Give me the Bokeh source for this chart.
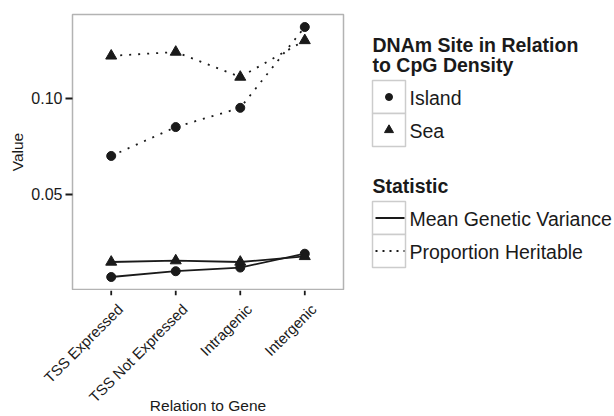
import math
from bokeh.plotting import figure
from bokeh.layouts import row, column
from bokeh.models import (FactorRange, Range1d, FixedTicker, PrintfTickFormatter,
                          LinearAxis)
from bokeh.core.properties import value
from bokeh.embed import file_html
from bokeh.resources import INLINE

# ---- data ----------------------------------------------------------------
relation = ["TSS Expressed", "TSS Not Expressed", "Intragenic", "Intergenic"]
island_prop_heritable = [0.070, 0.085, 0.095, 0.137]
sea_prop_heritable = [0.122, 0.124, 0.111, 0.130]
island_mean_gen_var = [0.0071, 0.0101, 0.0120, 0.0192]
sea_mean_gen_var = [0.0149, 0.0156, 0.0149, 0.0178]
y_ticks = [0.05, 0.10]

x_title = "Relation to Gene"
y_title = "Value"
shape_title = ["DNAm Site in Relation", "to CpG Density"]
shape_labels = ["Island", "Sea"]
stat_title = "Statistic"
stat_labels = ["Mean Genetic Variance", "Proportion Heritable"]

# ---- layout constants ----------------------------------------------------
W, H = 614, 416
MAIN_W = 350
LEFT, RIGHT, TOP, BOTTOM = 72, 343, 14, 289
MAIN_H = BOTTOM + 1             # one spare row so the panel border is whole
STRIP_H = H - MAIN_H            # strip holding x ticks, slanted labels, x title
TICK = 7
FONT = "Liberation Sans"
INK = "#1a1a1a"
DOTS = "2 7"
CAT_PAD = 0.1                   # padding (in category units) at each end
LABEL_SHIFT_PX = 9              # slanted labels hang to the right of the tick

all_vals = island_prop_heritable + sea_prop_heritable + island_mean_gen_var + sea_mean_gen_var
lo, hi = min(all_vals), max(all_vals)
pad = (hi - lo) * 0.05
n_cat = len(relation)

p = figure(width=MAIN_W, height=MAIN_H, output_backend="svg", toolbar_location=None,
           x_range=FactorRange(*relation, range_padding=2 * CAT_PAD / n_cat,
                               range_padding_units="percent"),
           y_range=Range1d(lo - pad, hi + pad),
           min_border_left=LEFT, min_border_right=MAIN_W - RIGHT,
           min_border_top=TOP, min_border_bottom=MAIN_H - BOTTOM)
p.background_fill_color = "white"
p.border_fill_color = "white"
p.outline_line_color = "#b3b3b3"
p.outline_line_width = 1.5
p.grid.visible = False

# ---- series --------------------------------------------------------------
def series(vals, dash, marker, size):
    p.line(relation, vals, line_color=INK, line_width=1.8, line_dash=dash)
    p.scatter(relation, vals, marker=marker, size=size, fill_color=INK, line_color=INK)

series(island_prop_heritable, DOTS, "circle", 9)
series(sea_prop_heritable, DOTS, "triangle", 11)
series(island_mean_gen_var, "solid", "circle", 9)
series(sea_mean_gen_var, "solid", "triangle", 11)

# ---- y axis --------------------------------------------------------------
ya = p.yaxis[0]
ya.axis_line_color = None
ya.major_tick_line_color = INK
ya.major_tick_line_width = 1.8
ya.major_tick_out = TICK
ya.major_tick_in = 0
ya.minor_tick_line_color = None
ya.major_label_text_font = FONT
ya.major_label_text_font_size = "16px"
ya.major_label_text_color = INK
ya.axis_label_text_font = FONT
ya.axis_label_text_font_size = "15.5px"
ya.axis_label_text_font_style = "normal"
ya.axis_label_text_color = INK
ya.ticker = FixedTicker(ticks=y_ticks)
ya.formatter = PrintfTickFormatter(format="%.2f")
ya.axis_label = y_title
ya.major_label_standoff = 3
ya.axis_label_standoff = 2

# the x axis is rebuilt in the strip below
p.xaxis.visible = False

# ---- strip: x ticks (in a thin frame) + slanted labels and title below ---
cat_pos = [i + 0.5 for i in range(n_cat)]
px_per_cat = (RIGHT - LEFT) / (n_cat + 2 * CAT_PAD)
label_pos = [round(c + LABEL_SHIFT_PX / px_per_cat, 4) for c in cat_pos]

strip = figure(width=MAIN_W, height=STRIP_H, output_backend="svg", toolbar_location=None,
               x_range=Range1d(-CAT_PAD, n_cat + CAT_PAD), y_range=Range1d(TICK, 0),
               x_axis_type=None, y_axis_type=None,
               min_border_left=LEFT, min_border_right=MAIN_W - RIGHT,
               min_border_top=0, min_border_bottom=STRIP_H - TICK)
strip.grid.visible = False
strip.outline_line_color = None
strip.background_fill_color = "white"
strip.border_fill_color = "white"

strip.segment(x0=cat_pos, y0=[0] * n_cat, x1=cat_pos, y1=[TICK] * n_cat,
              line_color=INK, line_width=1.8)

xa = LinearAxis(ticker=FixedTicker(ticks=label_pos),
                major_label_overrides={v: lab for v, lab in zip(label_pos, relation)})
xa.axis_line_color = None
xa.major_tick_line_color = None
xa.major_tick_out = 0
xa.major_tick_in = 0
xa.minor_tick_line_color = None
xa.major_label_orientation = math.pi / 4
xa.major_label_standoff = 11
xa.major_label_text_font = FONT
xa.major_label_text_font_size = "15px"
xa.major_label_text_color = INK
xa.axis_label = x_title
xa.axis_label_standoff = -18
xa.axis_label_text_font = FONT
xa.axis_label_text_font_size = "15.5px"
xa.axis_label_text_font_style = "normal"
xa.axis_label_text_color = INK
strip.add_layout(xa, "below")

# ---- legend panel -------------------------------------------------------
# coordinates in this panel are canvas pixels of the page
leg = figure(width=W - MAIN_W, height=H, output_backend="svg", toolbar_location=None,
             x_range=Range1d(MAIN_W, W), y_range=Range1d(BOTTOM, TOP),
             min_border_left=0, min_border_right=0,
             min_border_top=TOP, min_border_bottom=H - BOTTOM)
leg.axis.visible = False
leg.grid.visible = False
leg.outline_line_color = None
leg.background_fill_color = "white"
leg.border_fill_color = "white"

KEY_L, KEY_R, KEY_H = 372, 405, 33
LABEL_X = 409
KEY_CX = (KEY_L + KEY_R) / 2

def leg_text(x, y, s, size="19.5px", bold=False):
    leg.text(x=[x], y=[y], text=[s], text_font=value(FONT), text_font_size=size,
             text_font_style="bold" if bold else "normal", text_color=INK,
             text_align="left", text_baseline="middle")

def key_box(top):
    leg.quad(left=[KEY_L], right=[KEY_R], top=[top], bottom=[top + KEY_H],
             fill_color="white", line_color="#cccccc", line_width=1.5)

# shape legend
leg_text(KEY_L, 44, shape_title[0], bold=True)
leg_text(KEY_L, 64, shape_title[1], bold=True)
shape_markers = [("circle", 7), ("triangle", 9)]
for i, (lab, (mk, sz)) in enumerate(zip(shape_labels, shape_markers)):
    top = 80 + KEY_H * i
    key_box(top)
    leg.scatter(x=[KEY_CX], y=[top + KEY_H / 2], marker=mk, size=sz,
                fill_color=INK, line_color=INK)
    leg_text(LABEL_X, top + KEY_H / 2 + 0.5, lab)

# line-type legend
leg_text(KEY_L, 185, stat_title, bold=True)
stat_dash = ["solid", "2 5"]
for i, (lab, dash) in enumerate(zip(stat_labels, stat_dash)):
    top = 201 + KEY_H * i
    key_box(top)
    leg.segment(x0=[KEY_L + 3], y0=[top + KEY_H / 2], x1=[KEY_R - 1], y1=[top + KEY_H / 2],
                line_color=INK, line_width=1.8, line_dash=dash)
    leg_text(LABEL_X, top + KEY_H / 2 + 0.5, lab)

layout = row(column(p, strip, spacing=0), leg, spacing=0)
open("out.html", "w").write(file_html(layout, INLINE))
